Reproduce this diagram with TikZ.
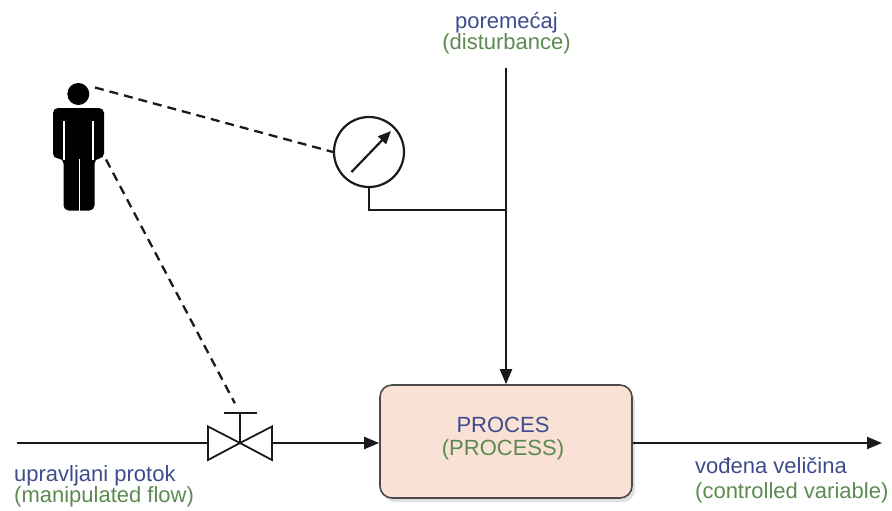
\documentclass[tikz,border=0pt]{standalone}
\usepackage{fontspec}
\setmainfont{Liberation Sans}
\usetikzlibrary{arrows.meta}
\definecolor{txtblue}{HTML}{3E4C8C}
\definecolor{txtgreen}{HTML}{5C8A50}
\definecolor{boxfill}{HTML}{F9E1D5}
\definecolor{boxdraw}{HTML}{4A4A4A}
\definecolor{ink}{HTML}{1A1A1A}
\begin{document}
\begin{tikzpicture}[x=1pt,y=-1pt,
  lbl/.style={font=\fontsize{22}{24}\selectfont, inner sep=0pt},
  bl/.style={lbl, text=txtblue},
  gr/.style={lbl, text=txtgreen},
  conn/.style={draw=ink, line width=2.2pt},
  arr/.style={conn, -{Triangle[length=15pt,width=12pt]}},
  dashlink/.style={draw=ink, line width=2.3pt, dash pattern=on 9pt off 6pt},
  procbox/.style={draw=boxdraw, fill=boxfill, line width=1.6pt, rounded corners=12pt,
    minimum width=252pt, minimum height=113pt, inner sep=0pt},
  gaugestyle/.style={circle, draw=ink, fill=white, line width=2.2pt, minimum size=70pt, inner sep=0pt}
]
\useasboundingbox (0,0) rectangle (892,511);

% process box (with faint shadow)
\fill[black!12, rounded corners=12pt] (383,389) rectangle (635,502);
\node[procbox] (proc) at (506,441.5) {};
\node[bl, anchor=base] (proct1) at (503,432) {PROCES};
\node[gr, anchor=base] (proct2) at (503,455) {(PROCESS)};

% disturbance
\node[bl, anchor=base] (dist1) at (506.5,28.5) {poremećaj};
\node[gr, anchor=base] (dist2) at (506.5,49.5) {(disturbance)};
\coordinate (dtop) at (506,68);
\coordinate (junc) at (506,210);
\draw[arr] (dtop) -- (proc.north);

% gauge
\node[gaugestyle] (gauge) at (369,152) {};
\draw[conn] (gauge.south) |- (junc);
\coordinate (ga) at (351.5,172);
\coordinate (gb) at (391,131);
\draw[draw=ink, line width=2.2pt, -{Triangle[length=13pt,width=11pt]}] (ga) -- (gb);

% valve
\coordinate (in) at (17,443);
\coordinate (vl) at (208,443);
\coordinate (vc) at (240,443);
\coordinate (vr) at (272,443);
\coordinate (vtop) at (240,413);
\coordinate (out) at (882,443);
\draw[draw=ink, line width=1.8pt, line join=miter] (vc) -- (208,426.5) -- (208,460) -- cycle;
\draw[draw=ink, line width=1.8pt, line join=miter] (vc) -- (272,426.5) -- (272,460) -- cycle;
\draw[draw=ink, line width=1.8pt] (vc) -- (vtop);
\draw[draw=ink, line width=1.8pt] (224,413) -- (257,413);
\draw[conn] (in) -- (vl);
\draw[arr] (vr) -- (vr -| proc.west);
\draw[arr] (proc.east |- out) -- (out);

% labels
\node[bl, anchor=base west] (inl1) at (14,481) {upravljani protok};
\node[gr, anchor=base west] (inl2) at (14,502) {(manipulated flow)};
\node[bl, anchor=base west] (outl1) at (695,473) {vođena veličina};
\node[gr, anchor=base west] (outl2) at (695,498) {(controlled variable)};

% person
\fill[black] (78.3,94) circle (11pt);
\fill[black, rounded corners=5pt] (53,158.5) -- (53,108) -- (104,108) -- (104,158.5) -- (94.5,158.5)
  -- (94.5,210.5) -- (63.5,210.5) -- (63.5,158.5) -- cycle;
\draw[white, line width=1.8pt] (64.3,121) -- (64.3,159.5);
\draw[white, line width=1.8pt] (93.3,121) -- (93.3,159.5);
\draw[white, line width=1.6pt] (79.3,159) -- (79.3,212);
\coordinate (head) at (95,87.5);
\coordinate (hand) at (106,159.5);

% dashed links
\draw[dashlink] (head) -- (gauge.west);
\draw[dashlink, shorten >=11pt] (hand) -- (vtop);
\end{tikzpicture}
\end{document}
